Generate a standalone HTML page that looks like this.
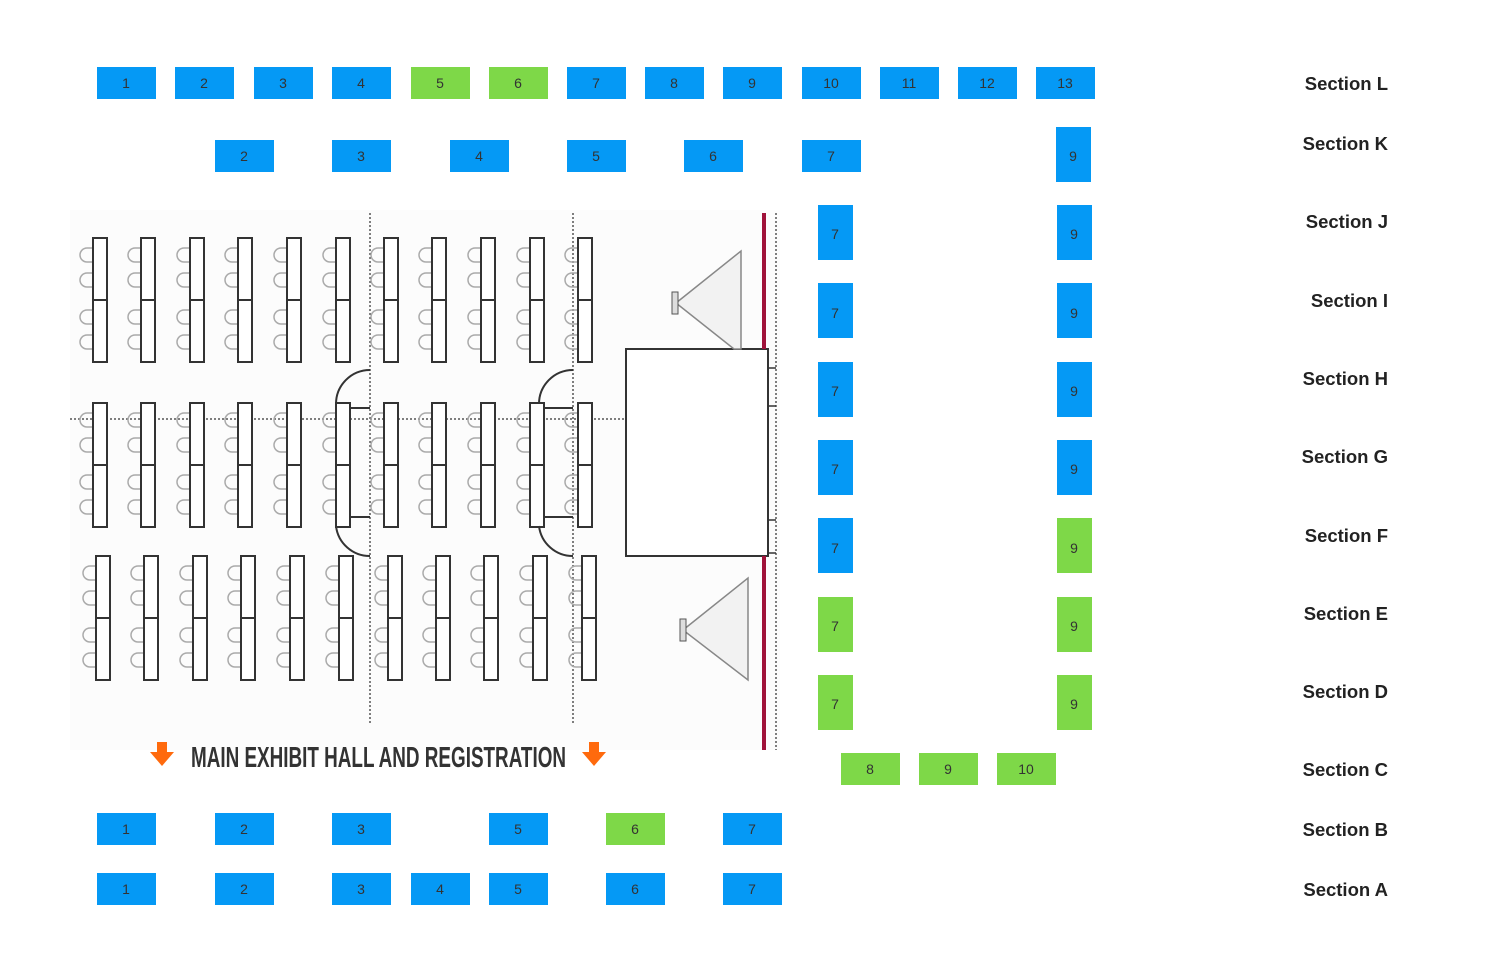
<!DOCTYPE html>
<html><head><meta charset="utf-8"><style>
body{margin:0;background:#fff}
svg{display:block}
.b{fill:#0599f5}.g{fill:#7ed848}
.n{font-family:"Liberation Sans",sans-serif;font-size:14px;fill:#333;text-anchor:middle}
.s{font-family:"Liberation Sans",sans-serif;font-size:18.5px;font-weight:bold;fill:#222;text-anchor:end}
</style></head><body>
<svg width="1500" height="978" viewBox="0 0 1500 978" xmlns="http://www.w3.org/2000/svg">
<defs>
<g id="t">
<path d="M0,10 h-6 a7,7 0 0 0 0,14 h6 M0,35 h-6 a7,7 0 0 0 0,14 h6 M0,72 h-6 a7,7 0 0 0 0,14 h6 M0,97 h-6 a7,7 0 0 0 0,14 h6" fill="none" stroke="#aaa" stroke-width="1.5"/>
<rect x="0" y="0" width="14" height="124" fill="#fff" stroke="#333" stroke-width="2"/>
<line x1="0" y1="62" x2="14" y2="62" stroke="#333" stroke-width="2"/>
</g>
</defs>
<rect x="70" y="210" width="710" height="540" fill="#fcfcfc"/>
<g stroke="#555" stroke-width="1.5" stroke-dasharray="2,2" fill="none">
<line x1="370" y1="213" x2="370" y2="725"/>
<line x1="573" y1="213" x2="573" y2="725"/>
<line x1="70" y1="419" x2="626" y2="419"/>
<line x1="776" y1="213" x2="776" y2="750"/>
</g>
<g>
<use href="#t" x="93" y="238"/><use href="#t" x="141" y="238"/><use href="#t" x="190" y="238"/><use href="#t" x="238" y="238"/><use href="#t" x="287" y="238"/><use href="#t" x="336" y="238"/><use href="#t" x="384" y="238"/><use href="#t" x="432" y="238"/><use href="#t" x="481" y="238"/><use href="#t" x="530" y="238"/><use href="#t" x="578" y="238"/>
<use href="#t" x="93" y="403"/><use href="#t" x="141" y="403"/><use href="#t" x="190" y="403"/><use href="#t" x="238" y="403"/><use href="#t" x="287" y="403"/><use href="#t" x="336" y="403"/><use href="#t" x="384" y="403"/><use href="#t" x="432" y="403"/><use href="#t" x="481" y="403"/><use href="#t" x="530" y="403"/><use href="#t" x="578" y="403"/>
<use href="#t" x="96" y="556"/><use href="#t" x="144" y="556"/><use href="#t" x="193" y="556"/><use href="#t" x="241" y="556"/><use href="#t" x="290" y="556"/><use href="#t" x="339" y="556"/><use href="#t" x="388" y="556"/><use href="#t" x="436" y="556"/><use href="#t" x="484" y="556"/><use href="#t" x="533" y="556"/><use href="#t" x="582" y="556"/>
</g>
<g fill="none" stroke="#333" stroke-width="2">
<path d="M370,370 a34,34 0 0 0 -34,34 M336,526 a34,34 0 0 0 34,30 M350,408 h20 M350,517 h20"/>
<path d="M573,370 a34,34 0 0 0 -34,34 M539,526 a34,34 0 0 0 34,30 M544,408 h29 M544,517 h29"/>
</g>
<rect x="626" y="349" width="142" height="207" fill="#fff" stroke="#333" stroke-width="2"/>
<path d="M768,368 h8 M768,406 h8 M768,520 h8 M768,553 h8" stroke="#333" stroke-width="1.5"/>
<line x1="764" y1="213" x2="764" y2="349" stroke="#a0123a" stroke-width="4"/>
<line x1="764" y1="556" x2="764" y2="750" stroke="#a0123a" stroke-width="4"/>
<polygon points="676,303 741,251 741,349 734,349" fill="#f2f2f2" stroke="#888" stroke-width="1.5"/>
<rect x="672" y="292" width="6" height="22" fill="#ddd" stroke="#555"/>
<polygon points="683,630 748,578 748,680" fill="#f2f2f2" stroke="#888" stroke-width="1.5"/>
<rect x="680" y="619" width="6" height="22" fill="#ddd" stroke="#555"/>
<path d="M157,742 h10 v10 h7 l-12,14 l-12,-14 h7z" fill="#ff6a0d"/>
<path d="M589,742 h10 v10 h7 l-12,14 l-12,-14 h7z" fill="#ff6a0d"/>
<text x="191" y="767" font-family="Liberation Sans,sans-serif" font-weight="bold" font-size="29" fill="#333" textLength="375" lengthAdjust="spacingAndGlyphs">MAIN EXHIBIT HALL AND REGISTRATION</text>
<g>
<rect class="b" x="97" y="67" width="59" height="32"/><text class="n" x="126" y="88">1</text>
<rect class="b" x="175" y="67" width="59" height="32"/><text class="n" x="204" y="88">2</text>
<rect class="b" x="254" y="67" width="59" height="32"/><text class="n" x="283" y="88">3</text>
<rect class="b" x="332" y="67" width="59" height="32"/><text class="n" x="361" y="88">4</text>
<rect class="g" x="411" y="67" width="59" height="32"/><text class="n" x="440" y="88">5</text>
<rect class="g" x="489" y="67" width="59" height="32"/><text class="n" x="518" y="88">6</text>
<rect class="b" x="567" y="67" width="59" height="32"/><text class="n" x="596" y="88">7</text>
<rect class="b" x="645" y="67" width="59" height="32"/><text class="n" x="674" y="88">8</text>
<rect class="b" x="723" y="67" width="59" height="32"/><text class="n" x="752" y="88">9</text>
<rect class="b" x="802" y="67" width="59" height="32"/><text class="n" x="831" y="88">10</text>
<rect class="b" x="880" y="67" width="59" height="32"/><text class="n" x="909" y="88">11</text>
<rect class="b" x="958" y="67" width="59" height="32"/><text class="n" x="987" y="88">12</text>
<rect class="b" x="1036" y="67" width="59" height="32"/><text class="n" x="1065" y="88">13</text>
</g>
<g>
<rect class="b" x="215" y="140" width="59" height="32"/><text class="n" x="244" y="161">2</text>
<rect class="b" x="332" y="140" width="59" height="32"/><text class="n" x="361" y="161">3</text>
<rect class="b" x="450" y="140" width="59" height="32"/><text class="n" x="479" y="161">4</text>
<rect class="b" x="567" y="140" width="59" height="32"/><text class="n" x="596" y="161">5</text>
<rect class="b" x="684" y="140" width="59" height="32"/><text class="n" x="713" y="161">6</text>
<rect class="b" x="802" y="140" width="59" height="32"/><text class="n" x="831" y="161">7</text>
<rect class="b" x="1056" y="127" width="35" height="55"/><text class="n" x="1073" y="161">9</text>
</g>
<g>
<rect class="b" x="818" y="205" width="35" height="55"/><text class="n" x="835" y="239">7</text>
<rect class="b" x="818" y="283" width="35" height="55"/><text class="n" x="835" y="318">7</text>
<rect class="b" x="818" y="362" width="35" height="55"/><text class="n" x="835" y="396">7</text>
<rect class="b" x="818" y="440" width="35" height="55"/><text class="n" x="835" y="474">7</text>
<rect class="b" x="818" y="518" width="35" height="55"/><text class="n" x="835" y="553">7</text>
<rect class="g" x="818" y="597" width="35" height="55"/><text class="n" x="835" y="631">7</text>
<rect class="g" x="818" y="675" width="35" height="55"/><text class="n" x="835" y="709">7</text>
<rect class="b" x="1057" y="205" width="35" height="55"/><text class="n" x="1074" y="239">9</text>
<rect class="b" x="1057" y="283" width="35" height="55"/><text class="n" x="1074" y="318">9</text>
<rect class="b" x="1057" y="362" width="35" height="55"/><text class="n" x="1074" y="396">9</text>
<rect class="b" x="1057" y="440" width="35" height="55"/><text class="n" x="1074" y="474">9</text>
<rect class="g" x="1057" y="518" width="35" height="55"/><text class="n" x="1074" y="553">9</text>
<rect class="g" x="1057" y="597" width="35" height="55"/><text class="n" x="1074" y="631">9</text>
<rect class="g" x="1057" y="675" width="35" height="55"/><text class="n" x="1074" y="709">9</text>
</g>
<rect class="g" x="841" y="753" width="59" height="32"/><text class="n" x="870" y="774">8</text>
<rect class="g" x="919" y="753" width="59" height="32"/><text class="n" x="948" y="774">9</text>
<rect class="g" x="997" y="753" width="59" height="32"/><text class="n" x="1026" y="774">10</text>
<rect class="b" x="97" y="813" width="59" height="32"/><text class="n" x="126" y="834">1</text>
<rect class="b" x="215" y="813" width="59" height="32"/><text class="n" x="244" y="834">2</text>
<rect class="b" x="332" y="813" width="59" height="32"/><text class="n" x="361" y="834">3</text>
<rect class="b" x="489" y="813" width="59" height="32"/><text class="n" x="518" y="834">5</text>
<rect class="g" x="606" y="813" width="59" height="32"/><text class="n" x="635" y="834">6</text>
<rect class="b" x="723" y="813" width="59" height="32"/><text class="n" x="752" y="834">7</text>
<rect class="b" x="97" y="873" width="59" height="32"/><text class="n" x="126" y="894">1</text>
<rect class="b" x="215" y="873" width="59" height="32"/><text class="n" x="244" y="894">2</text>
<rect class="b" x="332" y="873" width="59" height="32"/><text class="n" x="361" y="894">3</text>
<rect class="b" x="411" y="873" width="59" height="32"/><text class="n" x="440" y="894">4</text>
<rect class="b" x="489" y="873" width="59" height="32"/><text class="n" x="518" y="894">5</text>
<rect class="b" x="606" y="873" width="59" height="32"/><text class="n" x="635" y="894">6</text>
<rect class="b" x="723" y="873" width="59" height="32"/><text class="n" x="752" y="894">7</text>
<text class="s" x="1388" y="90">Section L</text>
<text class="s" x="1388" y="150">Section K</text>
<text class="s" x="1388" y="228">Section J</text>
<text class="s" x="1388" y="307">Section I</text>
<text class="s" x="1388" y="385">Section H</text>
<text class="s" x="1388" y="463">Section G</text>
<text class="s" x="1388" y="542">Section F</text>
<text class="s" x="1388" y="620">Section E</text>
<text class="s" x="1388" y="698">Section D</text>
<text class="s" x="1388" y="776">Section C</text>
<text class="s" x="1388" y="836">Section B</text>
<text class="s" x="1388" y="896">Section A</text>
</svg>
</body></html>
